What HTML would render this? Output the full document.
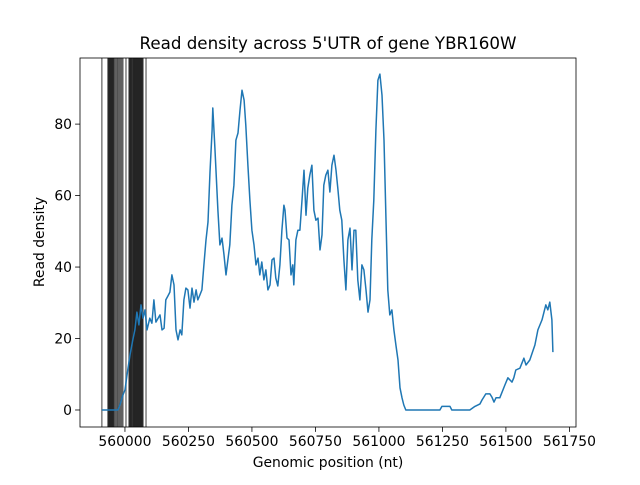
<!DOCTYPE html>
<html><head><meta charset="utf-8"><style>
body{margin:0;background:#fff}
svg text{font-family:"DejaVu Sans","Liberation Sans",sans-serif;fill:#000}
</style></head><body>
<svg id="chart" width="640" height="480" viewBox="0 0 640 480" xmlns="http://www.w3.org/2000/svg">
<rect width="640" height="480" fill="#fff"/>
<text x="328" y="49" font-size="16.7" text-anchor="middle">Read density across 5'UTR of gene YBR160W</text>
<g id="lines"></g>
<g id="series"></g>
<rect x="80" y="58" width="496" height="369" fill="none" stroke="#000" stroke-width="0.8"/>
<g id="xticks"></g>
<g id="yticks"></g>
<text x="328" y="467" font-size="13.9" text-anchor="middle">Genomic position (nt)</text>
<text transform="translate(44,242) rotate(-90)" font-size="13.9" text-anchor="middle">Read density</text>
</svg>
<script>
const base = 560000;
const positions = [-91,-28,-20,-8,0,8,20,31,39,47,55,63,71,79,87,98,106,114,122,138,146,154,161,169,177,185,193,201,209,217,224,232,240,248,256,264,272,280,287,295,303,311,319,327,335,343,346,354,366,374,382,390,398,406,413,421,429,437,445,453,461,469,476,484,492,500,508,516,524,531,539,547,555,563,571,579,587,594,602,610,618,626,630,638,646,654,661,665,673,681,689,697,705,713,720,728,736,744,752,760,768,776,783,791,799,807,815,823,831,839,846,854,862,870,878,886,894,902,909,917,925,933,941,949,957,965,972,980,988,996,1004,1012,1020,1028,1035,1043,1051,1059,1067,1075,1083,1091,1098,1106,1240,1248,1280,1287,1358,1378,1398,1406,1413,1421,1437,1445,1453,1461,1476,1496,1508,1524,1531,1539,1555,1571,1579,1594,1614,1626,1642,1650,1657,1665,1673,1681,1685];
const density = [0,0,1.4,4.2,5.6,9.8,15.4,19.6,22.4,27.4,23.8,29.4,25.7,28,22.4,25.7,24.3,30.8,24.6,26.6,22.4,22.9,30.8,31.9,33,37.8,35,22.4,19.6,22.4,21,30.8,34.1,33.6,28.5,34.1,30.2,33.6,30.8,32.2,33.6,40.6,47.6,52.6,66.6,78.3,84.5,73.3,55.9,46.2,48.1,43.4,37.8,42.5,46.2,57.3,62.9,75.5,77.5,83.9,89.5,86.7,79.7,68.5,58.7,50.3,46.2,40.6,42.5,37.8,41.4,36.4,39.2,33.6,35,42,42.5,36.9,34.7,40.6,50.3,57.3,55.9,48.1,47.6,37.8,40.6,35,47.6,50.3,50.3,58.7,67.1,54.5,62.1,65.7,68.5,55.9,53.1,53.7,44.8,49,62.9,65.7,67.1,61,68.5,71.3,67.1,61.5,55.9,53.1,42,33.6,47.6,50.9,39.2,50.3,50.3,36.4,30.8,40.6,39.2,33.6,27.4,30.8,47.6,58.7,78.3,92.3,94,88.1,75.5,53.1,33.6,26.6,28,22.4,18.2,14,6.2,3.4,1.4,0,0,1,1,0,0,1,1.7,2.8,3.6,4.5,4.5,3.6,2.2,3.4,3.4,7,9,7.8,9,11.2,11.7,14.5,12.6,14,18.2,22.4,25.2,27.4,29.4,28,30.2,25.2,16.2];
const markerOffsets = [-91,-67,-65,-63,-61,-59,-57,-55,-53,-51,-49,-47,-45,-43,-39,-35,-31,-28,-24,-20,-16,-12,-8,4,16,18,20,22,24,26,28,31,33,35,37,39,41,43,45,47,49,51,53,55,57,59,61,63,65,67,69,71,83];
const xTickValues = [560000,560250,560500,560750,561000,561250,561500,561750];
const yTickValues = [0,20,40,60,80];

const X0=80,X1=576,Y0=427,Y1=58;
const xMin=559823,xMax=561776,yMin=-4.76,yMax=98.5;
const sx=v=>X0+(v-xMin)/(xMax-xMin)*(X1-X0);
const sy=v=>Y0-(v-yMin)/(yMax-yMin)*(Y0-Y1);
const NS="http://www.w3.org/2000/svg";
function mk(t,a,p){const e=document.createElementNS(NS,t);for(const k in a)e.setAttribute(k,a[k]);p.appendChild(e);return e;}

const lg=document.getElementById('lines');
markerOffsets.forEach(o=>{const x=sx(base+o);
const l=mk('line',{x1:x,x2:x,y1:Y1,y2:Y0,stroke:'#000','stroke-opacity':0.5,'stroke-width':1.5},lg);

});

const sg=document.getElementById('series');
const d=positions.map((p,i)=>(i?'L':'M')+sx(base+p).toFixed(1)+','+sy(density[i]).toFixed(1)).join('');
const path=mk('path',{d:d,fill:'none',stroke:'#1f77b4','stroke-width':1.5,'stroke-linejoin':'round'},sg);



const xg=document.getElementById('xticks');
xTickValues.forEach(v=>{const x=sx(v);
mk('line',{x1:x,x2:x,y1:Y0,y2:Y0+4.9,stroke:'#000','stroke-width':0.8},xg);
const t=mk('text',{x:x,y:Y0+19,'font-size':13.9,'text-anchor':'middle'},xg);t.textContent=v;

});
const yg=document.getElementById('yticks');
yTickValues.forEach(v=>{const y=sy(v);
mk('line',{x1:X0,x2:X0-4.9,y1:y,y2:y,stroke:'#000','stroke-width':0.8},yg);
const t=mk('text',{x:X0-8,y:y+5,'font-size':13.9,'text-anchor':'end'},yg);t.textContent=v;

});
</script>
</body></html>
